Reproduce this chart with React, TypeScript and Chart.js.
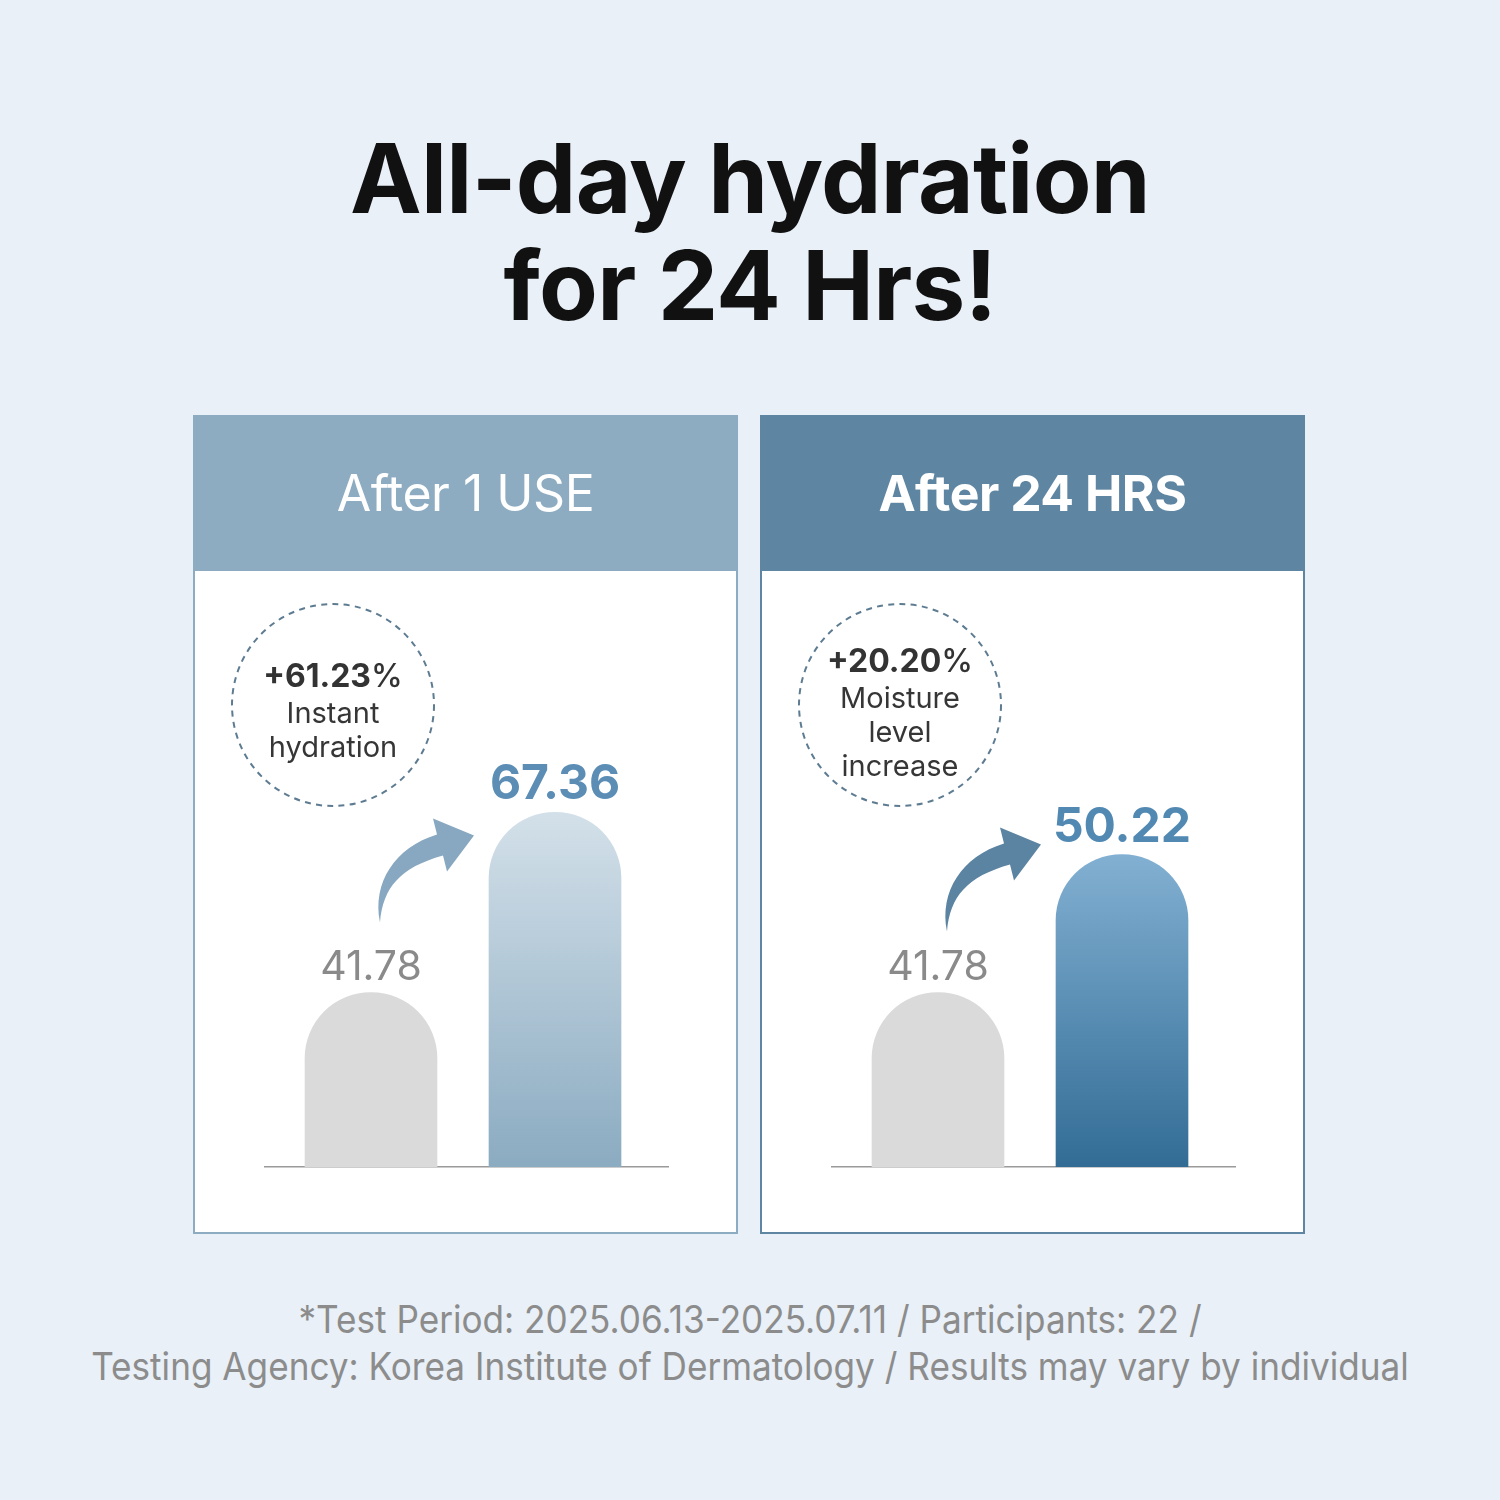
import React, { useEffect, useRef } from 'react';
import { Chart, registerables } from 'chart.js';

Chart.register(...registerables);

// ---------- data ----------
const categories = ['Before', 'After'];
const panelTitles = ['After 1 USE', 'After 24 HRS'];
const useValues = [41.78, 67.36];
const hrsValues = [41.78, 50.22];
const useChange = '+61.23';
const hrsChange = '+20.20';
const useNote = ['Instant', 'hydration'];
const hrsNote = ['Moisture', 'level', 'increase'];
const useRange = [17, 97.5];
const hrsRange = [31.1, 65.8];
const titleLines = ['All-day hydration', 'for 24 Hrs!'];
const footerLines = [
  '*Test Period: 2025.06.13-2025.07.11 / Participants: 22 /',
  'Testing Agency: Korea Institute of Dermatology / Results may vary by individual',
];

const FONT = 'Inter, "Noto Sans", sans-serif';

type ChartProps = {
  values: number[];
  range: number[];
  topColor: string;
  bottomColor: string;
  valueColor: string;
  arrowColor: string;
  arrowLift: number;
  change: string;
  note: string[];
};

function HydrationChart(p: ChartProps) {
  const ref = useRef<HTMLCanvasElement>(null);
  useEffect(() => {
    const canvas = ref.current!;
    const deco = {
      id: 'deco',
      afterDatasetsDraw(chart: any) {
        const ctx: CanvasRenderingContext2D = chart.ctx;
        const bars = chart.getDatasetMeta(0).data as any[];
        const g = bars[0];
        const b = bars[1];
        ctx.save();
        // value labels
        ctx.textAlign = 'center';
        ctx.textBaseline = 'alphabetic';
        ctx.fillStyle = '#8a8a8a';
        ctx.font = `400 41px ${FONT}`;
        ctx.fillText(p.values[0].toFixed(2), g.x, g.y - 12);
        ctx.fillStyle = p.valueColor;
        ctx.font = `700 48px ${FONT}`;
        ctx.fillText(p.values[1].toFixed(2), b.x, b.y - 13);

        // curved arrow
        const tx = g.x + 9;
        const ty = g.y - p.arrowLift;
        ctx.fillStyle = p.arrowColor;
        ctx.beginPath();
        ctx.moveTo(tx, ty);
        ctx.bezierCurveTo(tx - 8, ty - 40, tx + 15, ty - 75, tx + 57, ty - 88);
        ctx.lineTo(tx + 53, ty - 104);
        ctx.lineTo(tx + 94, ty - 87);
        ctx.lineTo(tx + 67, ty - 51);
        ctx.lineTo(tx + 63, ty - 67);
        ctx.bezierCurveTo(tx + 20, ty - 55, tx + 3, ty - 35, tx, ty);
        ctx.closePath();
        ctx.fill();

        // dashed circle note
        const cx = g.x - 38;
        const cy = 134;
        ctx.strokeStyle = '#5d7b91';
        ctx.lineWidth = 2;
        ctx.setLineDash([6, 5.3]);
        ctx.beginPath();
        ctx.arc(cx, cy, 101, 0, Math.PI * 2);
        ctx.stroke();
        ctx.setLineDash([]);

        const first = cy - 18 - (p.note.length - 2) * 15;
        ctx.fillStyle = '#333333';
        ctx.textAlign = 'left';
        ctx.font = `700 32px ${FONT}`;
        const wNum = ctx.measureText(p.change).width;
        ctx.font = `500 32px ${FONT}`;
        const wPct = ctx.measureText('%').width;
        const sx = cx - (wNum + wPct) / 2;
        ctx.font = `700 32px ${FONT}`;
        ctx.fillText(p.change, sx, first);
        ctx.font = `500 32px ${FONT}`;
        ctx.fillText('%', sx + wNum, first);
        ctx.textAlign = 'center';
        ctx.font = `400 29px ${FONT}`;
        ctx.fillStyle = '#363636';
        p.note.forEach((line, i) => {
          ctx.fillText(line, cx, first + 34 * (i + 1) + 2);
        });
        ctx.restore();
      },
    };

    const chart = new Chart(canvas, {
      type: 'bar',
      data: {
        labels: categories,
        datasets: [
          {
            data: p.values.map((v, i) => ({ x: i, y: v })),
            backgroundColor: (c: any) => {
              if (c.dataIndex === 0) return '#dadada';
              const ch = c.chart;
              const area = ch.chartArea;
              if (!area || !ch.scales.y) return p.bottomColor;
              const top = ch.scales.y.getPixelForValue(p.values[c.dataIndex]);
              const grad = ch.ctx.createLinearGradient(0, top, 0, area.bottom);
              grad.addColorStop(0, p.topColor);
              grad.addColorStop(1, p.bottomColor);
              return grad;
            },
            borderWidth: 0,
            borderRadius: { topLeft: 66, topRight: 66, bottomLeft: 0, bottomRight: 0 },
            borderSkipped: 'bottom',
            barThickness: 132,
          } as any,
        ],
      },
      options: {
        animation: false,
        responsive: false,
        layout: { padding: { left: 70, right: 68, top: 29, bottom: 65 } },
        plugins: { legend: { display: false }, tooltip: { enabled: false } },
        scales: {
          x: {
            type: 'linear',
            offset: false,
            bounds: 'data',
            min: -0.5761,
            max: 1.6141,
            grid: { display: false, drawTicks: false, offset: false },
            ticks: { display: false },
            border: { display: true, color: '#9a9a9a', width: 1.5 },
          },
          y: {
            display: false,
            min: p.range[0],
            max: p.range[1],
          },
        },
      } as any,
      plugins: [deco],
    });
    return () => chart.destroy();
  }, []);
  return <canvas ref={ref} width={541} height={661} style={{ display: 'block' }} />;
}

function Panel(props: { left: number; color: string; title: string; bold: boolean; chart: ChartProps }) {
  return (
    <div
      style={{
        position: 'absolute',
        left: props.left,
        top: 415,
        width: 545,
        height: 819,
        background: props.color,
      }}
    >
      <div
        style={{
          height: 156,
          display: 'flex',
          alignItems: 'center',
          justifyContent: 'center',
          color: '#ffffff',
          fontFamily: FONT,
          fontSize: 50,
          fontWeight: props.bold ? 700 : 400,
          letterSpacing: -0.5,
        }}
      >
        {props.title}
      </div>
      <div style={{ position: 'absolute', left: 2, top: 156, width: 541, height: 661, background: '#ffffff' }}>
        <HydrationChart {...props.chart} />
      </div>
    </div>
  );
}

export default function App() {
  return (
    <div
      style={{
        position: 'absolute',
        left: 0,
        top: 0,
        width: 1500,
        height: 1500,
        background: '#e9f0f7',
        overflow: 'hidden',
      }}
    >
      <div
        style={{
          position: 'absolute',
          left: 0,
          top: 125,
          width: 1500,
          textAlign: 'center',
          fontFamily: FONT,
          fontWeight: 700,
          fontSize: 96,
          lineHeight: '107px',
          color: '#111111',
          letterSpacing: -0.7,
        }}
      >
        {titleLines.map((t) => (
          <div key={t}>{t}</div>
        ))}
      </div>
      <Panel
        left={193}
        color="#8eacc1"
        title={panelTitles[0]}
        bold={false}
        chart={{
          values: useValues,
          range: useRange,
          topColor: '#d3e0e9',
          bottomColor: '#8babc1',
          valueColor: '#5b8db5',
          arrowColor: '#87a8c0',
          arrowLift: 70,
          change: useChange,
          note: useNote,
        }}
      />
      <Panel
        left={760}
        color="#5e85a2"
        title={panelTitles[1]}
        bold={true}
        chart={{
          values: hrsValues,
          range: hrsRange,
          topColor: '#82b0d2',
          bottomColor: '#326c95',
          valueColor: '#5289b3',
          arrowColor: '#5b83a2',
          arrowLift: 61,
          change: hrsChange,
          note: hrsNote,
        }}
      />
      <div
        style={{
          position: 'absolute',
          left: 0,
          top: 1296,
          width: 1500,
          textAlign: 'center',
          fontFamily: FONT,
          fontWeight: 400,
          fontSize: 38,
          lineHeight: '47px',
          color: '#8c8c8c',
        }}
      >
        {footerLines.map((t) => (
          <div key={t} style={{ transform: 'scaleX(0.925)', whiteSpace: 'nowrap' }}>
            {t}
          </div>
        ))}
      </div>
    </div>
  );
}
